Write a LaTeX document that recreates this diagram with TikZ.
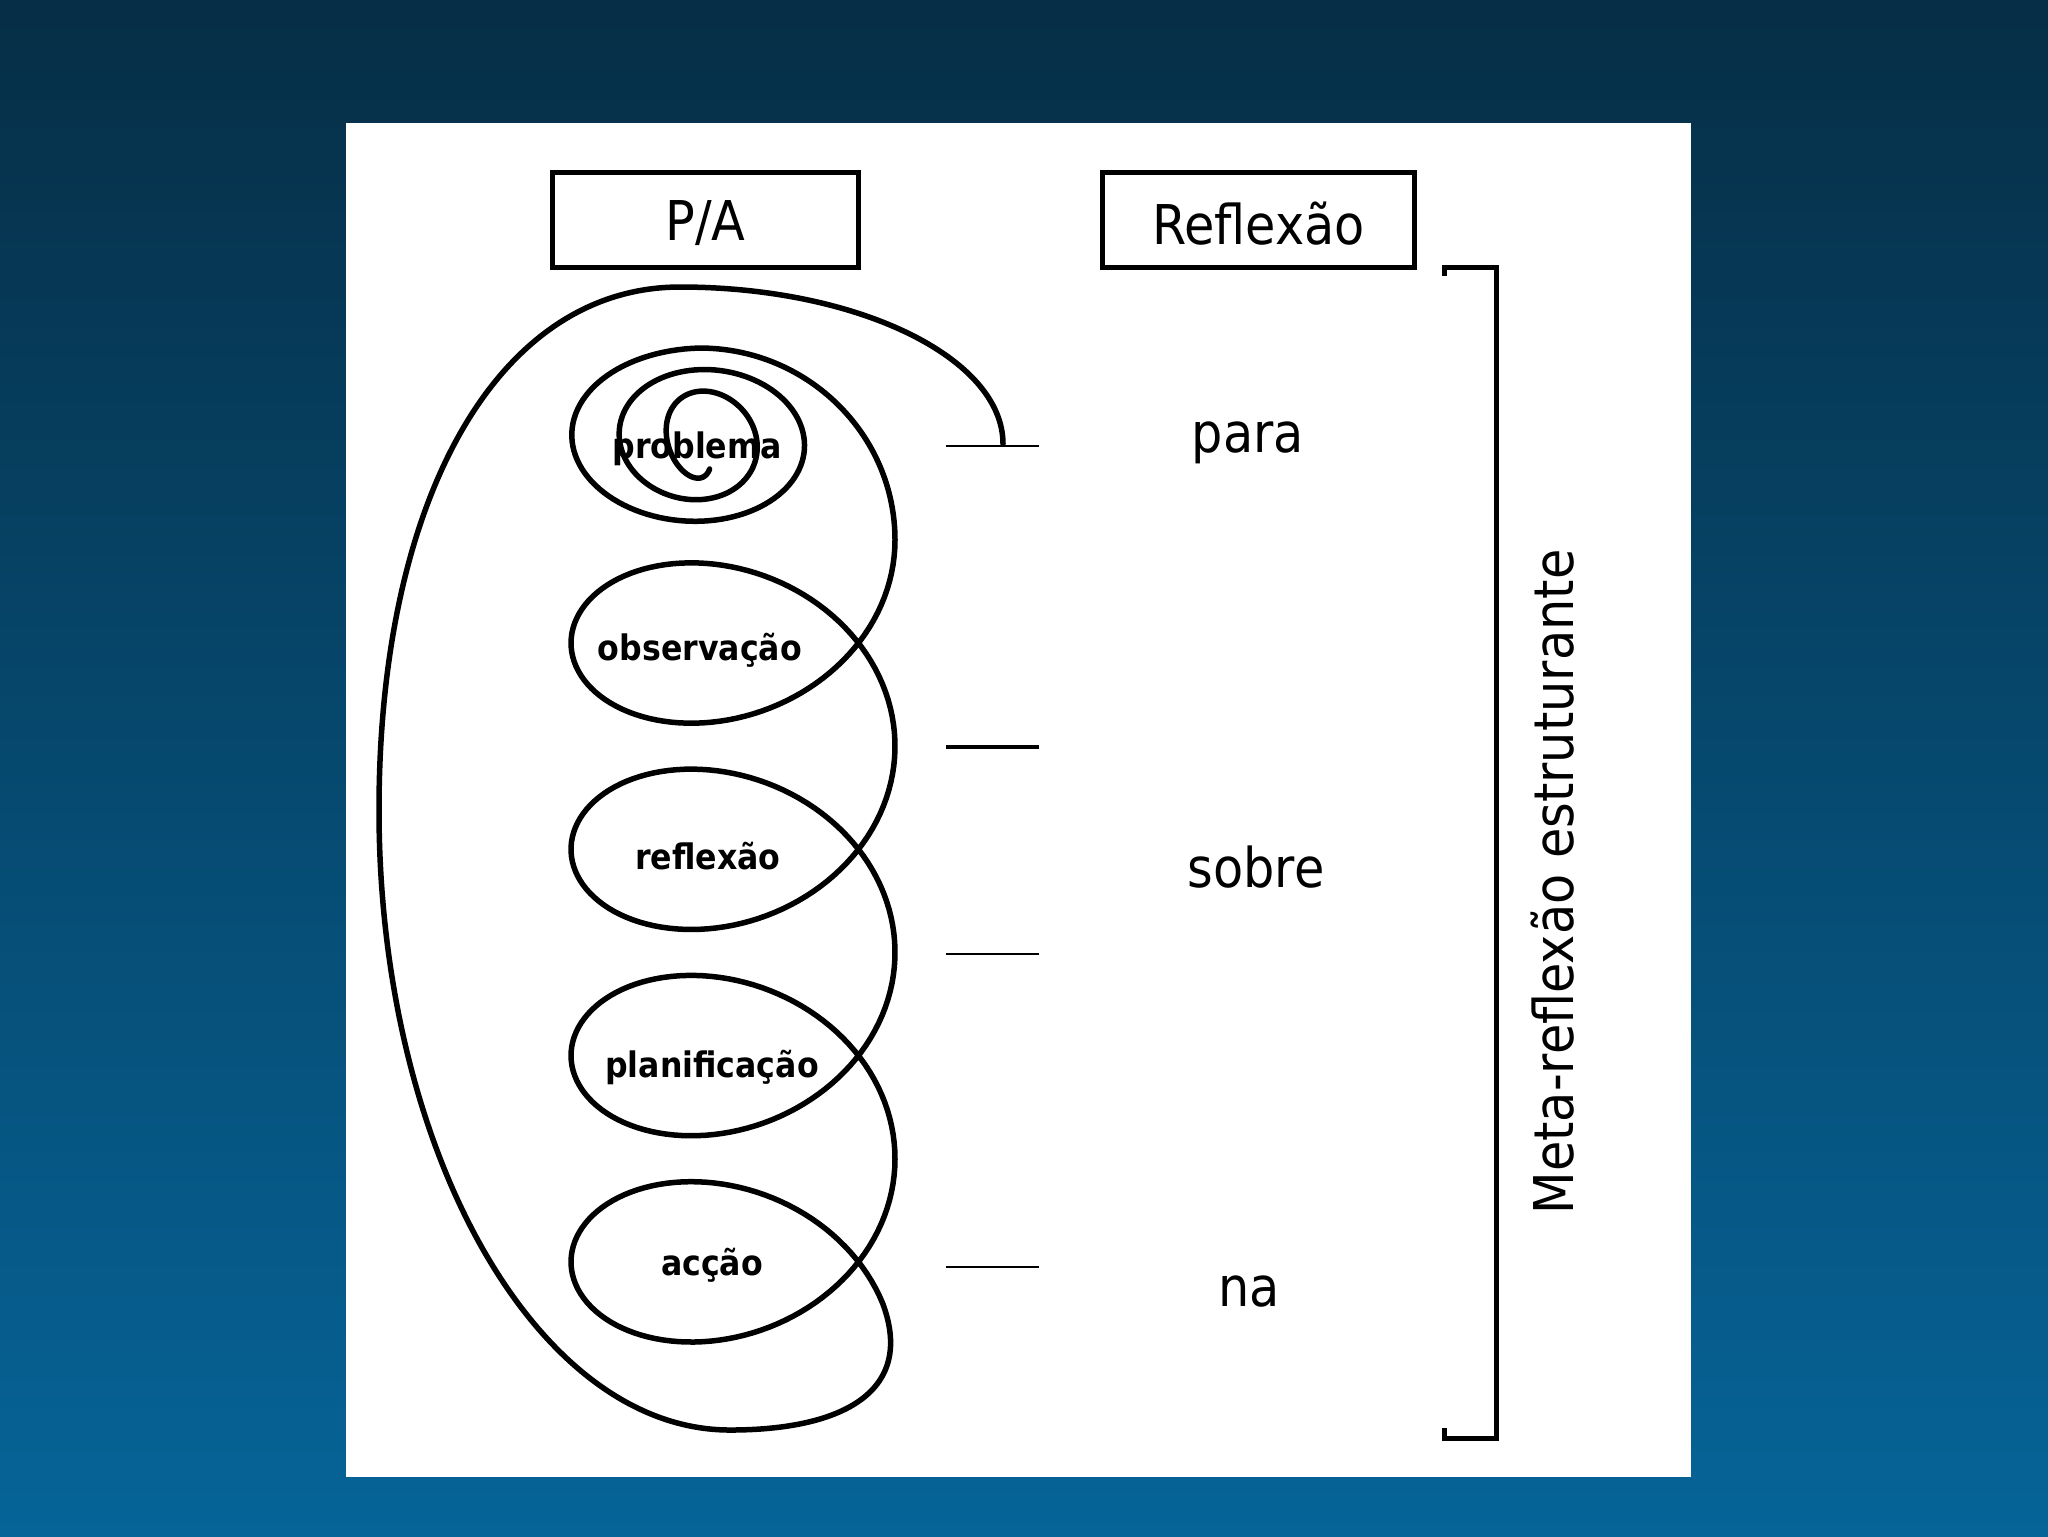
\documentclass[tikz,border=0pt]{standalone}
\usepackage{fontspec}
\setmainfont{DejaVu Sans}[FakeStretch=0.9]
\definecolor{bgtop}{RGB}{6,46,70}
\definecolor{bgbot}{RGB}{6,100,152}
\tikzset{
  coil/.style={line width=0.55mm, line join=round, line cap=round},
  titlebox/.style={draw, line width=0.5mm, inner sep=0pt, minimum height=9.5mm, font=\fontsize{15.6}{18}\selectfont},
  biglbl/.style={anchor=base, inner sep=0pt, font=\fontsize{15.6}{18}\selectfont},
  smalllbl/.style={anchor=base, inner sep=0pt, font=\bfseries\fontsize{10}{12}\selectfont},
  thintick/.style={line width=0.25mm},
  thicktick/.style={line width=0.45mm},
  bracketline/.style={line width=0.5mm}
}
\begin{document}
\begin{tikzpicture}[x=0.1mm, y=-0.1mm]
\useasboundingbox (0,0) rectangle (2048,1536);
\shade[top color=bgtop, bottom color=bgbot] (0,0) rectangle (2048,1536);
\fill[white] (346,123) rectangle (1691,1477);

% title boxes
\node[titlebox, minimum width=30.6mm, text height=4.4mm, text depth=0.3mm] (pa) at (705.5,220) {P/A};
\node[titlebox, minimum width=31.2mm, text height=5.2mm, text depth=0.3mm] (refl) at (1258.5,220) {Reflexão};

% coil
\draw[coil] plot[domain=0.3*pi:5.5*pi, samples=300, variable=\t]
   ({700+(33+23.75*(\t-pi)/pi)*cos(\t r)}, {440+(38+10.8*(\t-0.5*pi)/pi)*sin(\t r)})
  .. controls (807,348) and (895,434) .. (895,540)
  -- plot[domain=-pi:6*pi+2.75, samples=480, variable=\t]
   ({733-162*cos(\t r)}, {643+32.83*\t-127.5*sin(\t r)})
  .. controls (915,1390) and (845,1430) .. (730,1430)
  .. controls (537,1430) and (379,1151) .. (379,810)
  .. controls (379,496) and (499,287) .. (680,287)
  .. controls (858,287) and (1003,358) .. (1003,444);

% stage labels
\node[smalllbl] (problema) at (697,458) {problema};
\node[smalllbl] (observacao) at (700,660) {observação};
\node[smalllbl] (reflexao) at (708,869) {reflexão};
\node[smalllbl] (planificacao) at (712,1077) {planificação};
\node[smalllbl] (accao) at (712,1275) {acção};

% ticks
\coordinate (t1a) at (946,446);  \coordinate (t1b) at (1039,446);
\coordinate (t2a) at (946,747);  \coordinate (t2b) at (1039,747);
\coordinate (t3a) at (946,954);  \coordinate (t3b) at (1039,954);
\coordinate (t4a) at (946,1267); \coordinate (t4b) at (1039,1267);
\draw[thintick] (t1a) -- (t1b);
\draw[thicktick] (t2a) -- (t2b);
\draw[thintick] (t3a) -- (t3b);
\draw[thintick] (t4a) -- (t4b);

% right labels
\node[biglbl] (para) at (1248,452) {para};
\node[biglbl] (sobre) at (1256,887) {sobre};
\node[biglbl] (na) at (1249,1306) {na};

% bracket
\coordinate (bra) at (1444,276); \coordinate (brb) at (1444,267);
\coordinate (brc) at (1496,267); \coordinate (brd) at (1496,1438);
\coordinate (bre) at (1444,1438); \coordinate (brf) at (1444,1428);
\draw[bracketline] (bra) -- (brb) -- (brc) -- (brd) -- (bre) -- (brf);

\node[rotate=90, inner sep=0pt, font=\fontsize{15.6}{18}\selectfont] (meta) at (1553,882) {Meta-reflexão estruturante};
\end{tikzpicture}
\end{document}
